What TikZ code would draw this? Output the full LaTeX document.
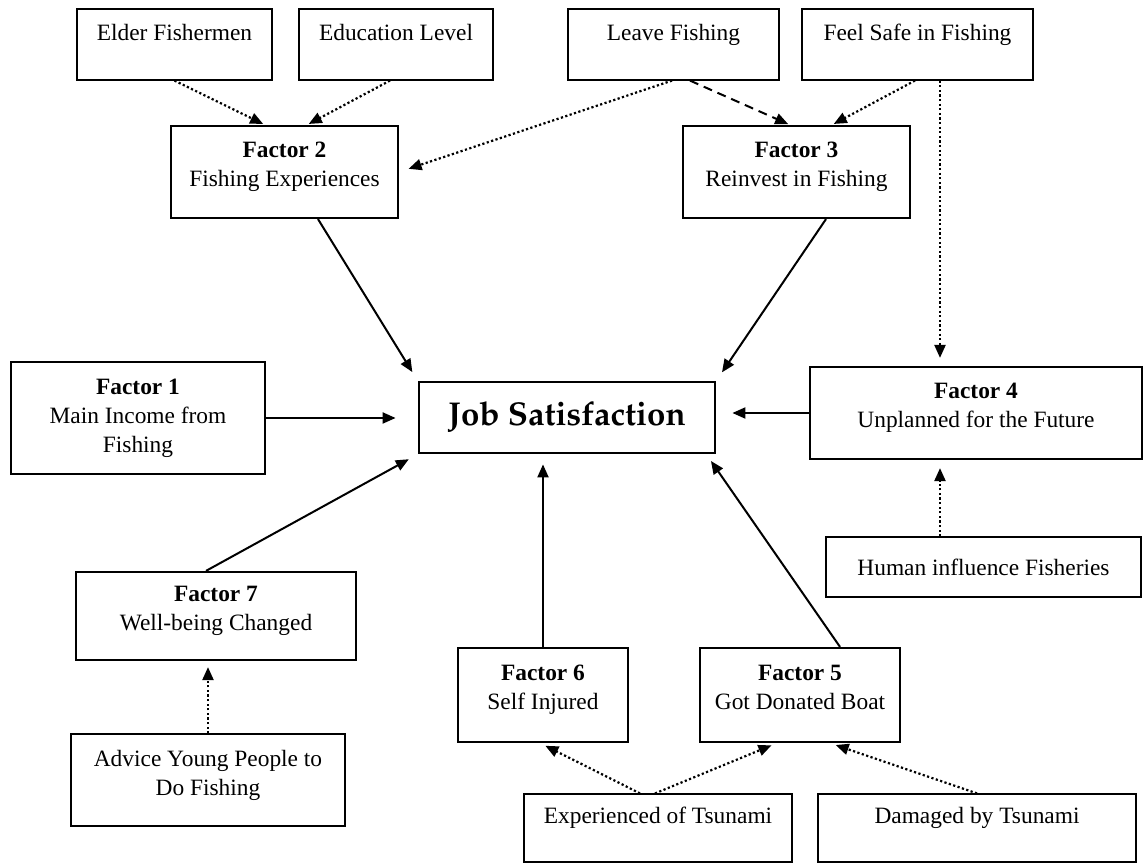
\documentclass[tikz,border=0pt]{standalone}
\usepackage[T1]{fontenc}
\usepackage{fontspec}
\setmainfont{Liberation Serif}
\usetikzlibrary{arrows.meta}
\newcommand{\gapline}{\\[-2pt]\mbox{}}
\newcommand{\smallgap}{\\[-7pt]\mbox{}}
\newcommand{\jsfont}{\fontencoding{T1}\fontfamily{ppl}\fontseries{b}\fontsize{16.5}{19}\selectfont}

\begin{document}
\begin{tikzpicture}[x=0.5pt,y=-0.5pt,
    font=\fontsize{11.7}{14.5}\selectfont,
    thinbox/.style={draw, line width=0.6pt, inner sep=0pt, align=center},
    factorbox/.style={draw, line width=1.1pt, inner sep=0pt, align=center},
    link/.style={line width=1pt, -{Triangle[length=6.5pt,width=5.5pt]}},
    dotlink/.style={link, line width=1.1pt, dash pattern=on 1.1pt off 1.2pt},
    dashlink/.style={link, dash pattern=on 4.5pt off 3pt}]
  \useasboundingbox (0,0) rectangle (1147,865);

  % outer causes
  \node[thinbox, minimum width=97.5pt, minimum height=35.5pt] (elder) at (174.5,44.5) {Elder Fishermen\gapline};
  \node[thinbox, minimum width=97pt, minimum height=35.5pt] (edu) at (396,44.5) {Education Level\gapline};
  \node[thinbox, minimum width=105.5pt, minimum height=35.5pt] (leave) at (673.5,44.5) {Leave Fishing\gapline};
  \node[thinbox, minimum width=115.5pt, minimum height=35.5pt] (safe) at (917.5,44.5) {Feel Safe in Fishing\gapline};
  \node[thinbox, minimum width=157.5pt, minimum height=30pt] (human) at (983.5,567) {Human influence Fisheries};
  \node[thinbox, minimum width=137pt, minimum height=46pt] (advice) at (208,780) {Advice Young People to\\Do Fishing\smallgap};
  \node[thinbox, minimum width=134pt, minimum height=34pt] (exp) at (658,828) {Experienced of Tsunami\gapline};
  \node[thinbox, minimum width=159pt, minimum height=34pt] (dam) at (977,828) {Damaged by Tsunami\gapline};

  % factors
  \node[factorbox, minimum width=127pt, minimum height=56pt] (f1) at (138,418) {\textbf{Factor 1}\\Main Income from\\Fishing};
  \node[factorbox, minimum width=113.5pt, minimum height=46pt] (f2) at (284.5,172) {\textbf{Factor 2}\\Fishing Experiences\smallgap};
  \node[factorbox, minimum width=113.5pt, minimum height=46pt] (f3) at (796.5,172) {\textbf{Factor 3}\\Reinvest in Fishing\smallgap};
  \node[factorbox, minimum width=166pt, minimum height=46pt] (f4) at (976,413) {\textbf{Factor 4}\\Unplanned for the Future\smallgap};
  \node[factorbox, minimum width=100pt, minimum height=47pt] (f5) at (800,695) {\textbf{Factor 5}\\Got Donated Boat\smallgap};
  \node[factorbox, minimum width=85pt, minimum height=47pt] (f6) at (543,695) {\textbf{Factor 6}\\Self Injured\smallgap};
  \node[factorbox, minimum width=140pt, minimum height=44pt] (f7) at (216,616) {\textbf{Factor 7}\\Well-being Changed\smallgap};

  \node[draw, line width=1.4pt, inner sep=0pt, minimum width=148pt, minimum height=35.5pt] (js) at (567,417.5) {\jsfont Job Satisfaction};

  % factors to job satisfaction
  \draw[link, shorten >=5pt] ([xshift=16.75pt]f2.south) -- (js.north west);
  \draw[link, shorten >=5pt] ([xshift=14.75pt]f3.south) -- (js.north east);
  \draw[link, shorten >=11pt] (f1.east) -- (f1.east -| js.west);
  \draw[link, shorten >=8pt] (f4.west) -- (f4.west -| js.east);
  \draw[link, shorten >=5pt] ([xshift=-5pt]f7.north) -- (js.south west);
  \draw[link, shorten >=5pt] (f6.north) -- (f6.north |- js.south);
  \draw[link, shorten >=4pt] ([xshift=20pt]f5.north) -- ([xshift=-5pt]js.south east);

  % causes to factors
  \draw[dotlink, shorten >=1pt] (elder.south) -- ([xshift=-9.75pt]f2.north);
  \draw[dotlink, shorten >=1pt] ([xshift=-3pt]edu.south) -- ([xshift=11.25pt]f2.north);
  \draw[dotlink, shorten >=5pt] ([xshift=-0.75pt]leave.south) -- (f2.east);
  \draw[dashlink, shorten >=1pt] ([xshift=8.25pt]leave.south) -- ([xshift=-3.25pt]f3.north);
  \draw[dotlink, shorten >=1pt] ([xshift=-1.25pt]safe.south) -- ([xshift=17.75pt]f3.north);
  \draw[dotlink, shorten >=4pt] ([xshift=11.25pt]safe.south) -- ([xshift=11.25pt]safe.south |- f4.north);
  \draw[dotlink, shorten >=4pt] ([xshift=-21.75pt]human.north) -- ([xshift=-21.75pt]human.north |- f4.south);
  \draw[dotlink, shorten >=3pt] (advice.north) -- (advice.north |- f7.south);
  \draw[dotlink, shorten >=3pt] ([xshift=-9pt]exp.north) -- ([xshift=-1.5pt]f6.south);
  \draw[dotlink, shorten >=3pt] ([xshift=-1.5pt]exp.north) -- ([xshift=-11.5pt]f5.south);
  \draw[dotlink, shorten >=3pt] (dam.north) -- ([xshift=15pt]f5.south);
\end{tikzpicture}
\end{document}
